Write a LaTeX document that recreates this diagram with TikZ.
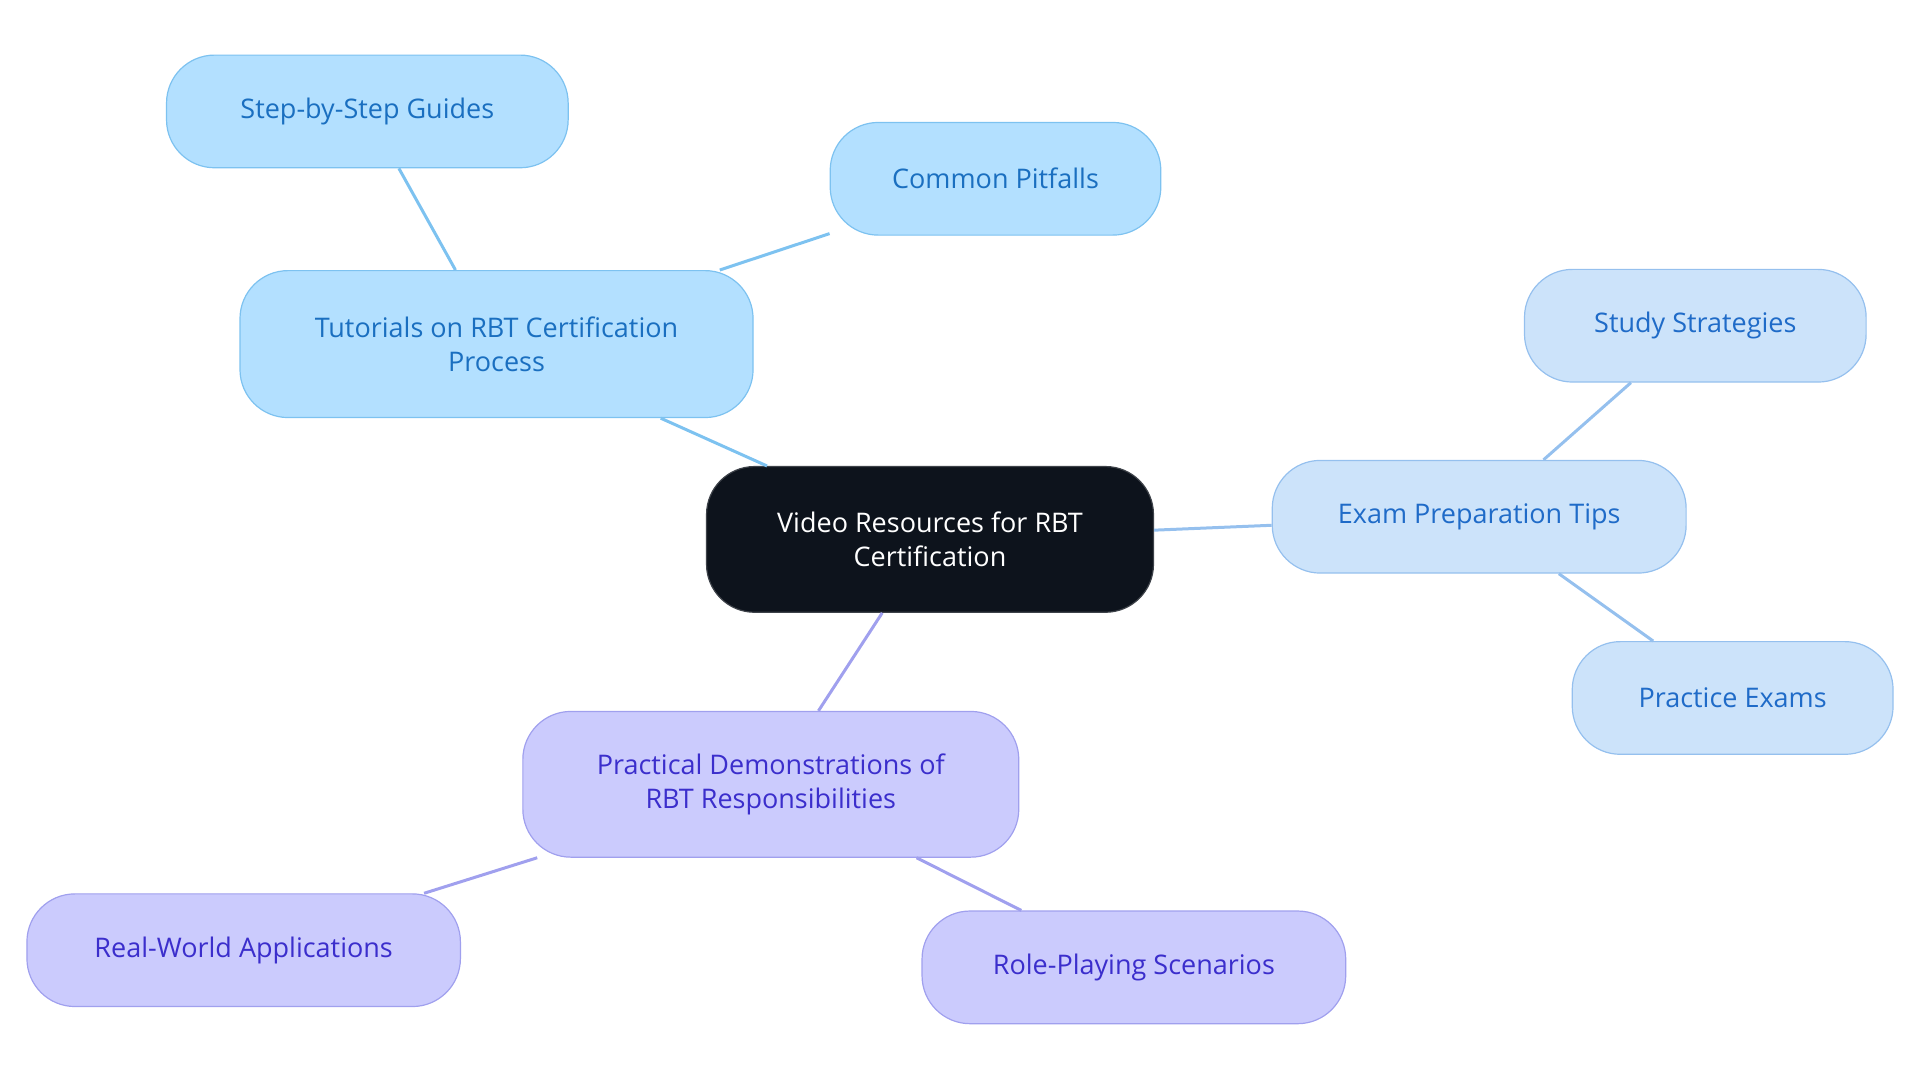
\documentclass[tikz,border=0pt]{standalone}
\usepackage{fontspec}
\setmainfont{Open Sans}
\begin{document}
\begin{tikzpicture}[x=1.2245pt,y=-1.2245pt,
 base/.style={draw, line width=1.2pt, rounded corners=48pt, align=center, inner sep=0pt, font=\fontsize{27}{34}\selectfont},
 root/.style={base, fill=black!85!blue!60!black, fill=[HTML]{0D131C}},
 blue/.style={base, fill=c1f, draw=c1d, text=c1t},
 light/.style={base, fill=c2f, draw=c2d, text=c2t},
 purp/.style={base, fill=c3f, draw=c3d, text=c3t},
 e1/.style={draw=c1d, line width=3pt},
 e2/.style={draw=c2d, line width=3pt},
 e3/.style={draw=c3d, line width=3pt}]
\definecolor{c0}{HTML}{0D131C}
\definecolor{c1f}{HTML}{B3E0FF}\definecolor{c1d}{HTML}{7DC2F0}\definecolor{c1t}{HTML}{1A6FC0}
\definecolor{c2f}{HTML}{CCE3FA}\definecolor{c2d}{HTML}{95C0EE}\definecolor{c2t}{HTML}{1F6BC8}
\definecolor{c3f}{HTML}{CBCBFD}\definecolor{c3d}{HTML}{A0A0EE}\definecolor{c3t}{HTML}{3B2ECC}
\useasboundingbox (0,0) rectangle (1568,884.5);
\node[base, fill=c0, draw=c0!80!white, text=white, minimum width={365*1.2245pt}, minimum height={119*1.2245pt}] (root) at (759.5,440.5) {Video Resources for RBT\\Certification};
\node[blue, minimum width={419*1.2245pt}, minimum height={120*1.2245pt}] (tut) at (405.5,281) {Tutorials on RBT Certification\\Process};
\node[blue, minimum width={328*1.2245pt}, minimum height={92*1.2245pt}] (step) at (300,91) {Step-by-Step Guides};
\node[blue, minimum width={270*1.2245pt}, minimum height={92*1.2245pt}] (pit) at (813,146) {Common Pitfalls};
\node[light, minimum width={338*1.2245pt}, minimum height={92*1.2245pt}] (exam) at (1208,422) {Exam Preparation Tips};
\node[light, minimum width={279*1.2245pt}, minimum height={92*1.2245pt}] (study) at (1384.5,266) {Study Strategies};
\node[light, minimum width={262*1.2245pt}, minimum height={92*1.2245pt}] (prac) at (1415,570) {Practice Exams};
\node[purp, minimum width={405*1.2245pt}, minimum height={119*1.2245pt}] (demo) at (629.5,640.5) {Practical Demonstrations of\\RBT Responsibilities};
\node[purp, minimum width={354*1.2245pt}, minimum height={92*1.2245pt}] (real) at (199,776) {Real-World Applications};
\node[purp, minimum width={346*1.2245pt}, minimum height={92*1.2245pt}] (role) at (926,790) {Role-Playing Scenarios};
\begin{scope}[on background layer/.style={}]
\end{scope}
\path[e1] (root) -- (tut) (tut) -- (step) (tut) -- (pit);
\path[e2] (root) -- (exam) (exam) -- (study) (exam) -- (prac);
\path[e3] (root) -- (demo) (demo) -- (real) (demo) -- (role);
\end{tikzpicture}
\end{document}
